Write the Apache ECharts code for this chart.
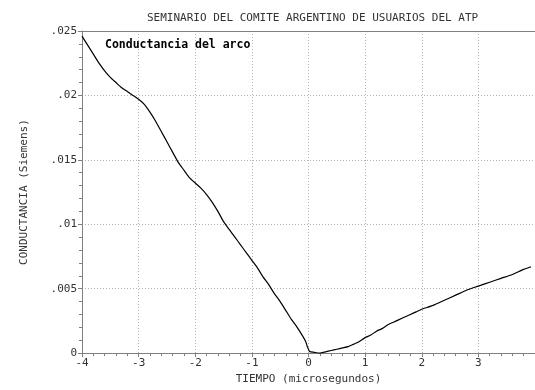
<!DOCTYPE html>
<html>
<head>
<meta charset="utf-8">
<style>
  html, body { margin: 0; padding: 0; background: #fff; }
  #chart { width: 535px; height: 390px; }
</style>
<script src="https://cdn.jsdelivr.net/npm/echarts@6/dist/echarts.min.js"></script>
</head>
<body>
<div id="chart"></div>
<script>
const chartTitle = 'SEMINARIO DEL COMITE ARGENTINO DE USUARIOS DEL ATP';
const curveLabel = 'Conductancia del arco';
const xAxisName = 'TIEMPO (microsegundos)';
const yAxisName = 'CONDUCTANCIA (Siemens)';

// time in microseconds
const tiempo = [
  -4.0, -3.9, -3.8, -3.7, -3.6, -3.5, -3.4, -3.3, -3.2, -3.1,
  -3.0, -2.9, -2.8, -2.7, -2.6, -2.5, -2.4, -2.3, -2.2, -2.1,
  -2.0, -1.9, -1.8, -1.7, -1.6, -1.5, -1.4, -1.3, -1.2, -1.1,
  -1.0, -0.9, -0.8, -0.7, -0.6, -0.5, -0.4, -0.3, -0.2, -0.1,
  -0.05, -0.02, 0.02, 0.1, 0.2, 0.3, 0.4, 0.5, 0.6, 0.7,
  0.8, 0.9, 1.0, 1.1, 1.2, 1.3, 1.4, 1.5, 1.6, 1.7,
  1.8, 1.9, 2.0, 2.2, 2.4, 2.6, 2.8, 3.0, 3.2, 3.4,
  3.6, 3.8, 3.93
];
// arc conductance in Siemens
const conductancia = [
  0.0246, 0.0239, 0.0232, 0.0225, 0.0219, 0.0214, 0.0210, 0.0206, 0.0203, 0.0200,
  0.0197, 0.0193, 0.0187, 0.0180, 0.0172, 0.0164, 0.0156, 0.0148, 0.0142, 0.0136,
  0.0132, 0.0128, 0.0123, 0.0117, 0.0110, 0.0102, 0.0096, 0.0090, 0.0084, 0.0078,
  0.0072, 0.0066, 0.0059, 0.0053, 0.0046, 0.0040, 0.0033, 0.0026, 0.0020, 0.0013,
  0.0009, 0.0005, 0.00012, 0.00006, 0.0000, 0.0001, 0.0002, 0.0003, 0.0004, 0.0005,
  0.0007, 0.0009, 0.0012, 0.0014, 0.0017, 0.0019, 0.0022, 0.0024, 0.0026, 0.0028,
  0.0030, 0.0032, 0.0034, 0.0037, 0.0041, 0.0045, 0.0049, 0.0052, 0.0055, 0.0058,
  0.0061, 0.0065, 0.0067
];

const xMin = -4, xMax = 4, xStep = 1;
const yMin = 0, yMax = 0.025, yStep = 0.005;

const FONT = '"DejaVu Sans Mono", "Liberation Mono", monospace';
const axisGray = '#808080';
const gridGray = '#b4b4b4';

const seriesData = tiempo.map((t, i) => [t, conductancia[i]]);

const chart = echarts.init(document.getElementById('chart'), null, { renderer: 'canvas' });
chart.setOption({
  animation: false,
  backgroundColor: '#ffffff',
  title: [
    {
      text: chartTitle,
      left: 147, top: 13, padding: 0,
      textStyle: { fontFamily: FONT, fontSize: 11, fontWeight: 'normal', color: '#333' }
    },
    {
      text: curveLabel,
      left: 105, top: 39, padding: 0,
      textStyle: { fontFamily: FONT, fontSize: 11.5, fontWeight: 'bold', color: '#000' }
    }
  ],
  grid: { left: 82, right: -4, top: 31, bottom: 32, containLabel: false },
  xAxis: [
    {
      type: 'value', position: 'bottom',
      min: xMin, max: xMax, interval: xStep,
      name: xAxisName, nameLocation: 'middle', nameGap: 20,
      nameTextStyle: { fontFamily: FONT, fontSize: 11, color: '#333' },
      axisLine: { show: true, onZero: false, lineStyle: { color: axisGray, width: 1 } },
      axisTick: { show: true, inside: false, length: 4, lineStyle: { color: axisGray } },
      minorTick: { show: true, splitNumber: 5, length: 3, lineStyle: { color: axisGray } },
      axisLabel: {
        margin: 5, fontFamily: FONT, fontSize: 11, color: '#333',
        showMaxLabel: false,
        formatter: v => String(Math.round(v))
      },
      splitLine: { show: true, lineStyle: { color: gridGray, type: [1, 2], width: 1 } }
    },
    {
      type: 'value', position: 'top',
      min: xMin, max: xMax, interval: xStep,
      axisLine: { show: true, onZero: false, lineStyle: { color: axisGray, width: 1 } },
      axisTick: { show: false }, axisLabel: { show: false }, splitLine: { show: false }
    }
  ],
  yAxis: {
    type: 'value',
    min: yMin, max: yMax, interval: yStep,
    name: yAxisName, nameLocation: 'middle', nameGap: 52, nameRotate: 90,
    nameTextStyle: { fontFamily: FONT, fontSize: 11, color: '#333' },
    axisLine: { show: true, onZero: false, lineStyle: { color: axisGray, width: 1 } },
    axisTick: { show: true, inside: false, length: 4, lineStyle: { color: axisGray } },
    minorTick: { show: true, splitNumber: 5, length: 3, lineStyle: { color: axisGray } },
    axisLabel: {
      margin: 5, fontFamily: FONT, fontSize: 11, color: '#333',
      formatter: v => v === 0 ? '0' : String(Number(v.toFixed(3))).replace(/^0\./, '.')
    },
    splitLine: { show: true, lineStyle: { color: gridGray, type: [1, 2], width: 1 } }
  },
  series: [{
    type: 'line',
    name: curveLabel,
    xAxisIndex: 0,
    data: seriesData,
    showSymbol: false,
    smooth: 0.2,
    lineStyle: { color: '#000', width: 1.2 },
    clip: true
  }]
});
</script>
</body>
</html>
